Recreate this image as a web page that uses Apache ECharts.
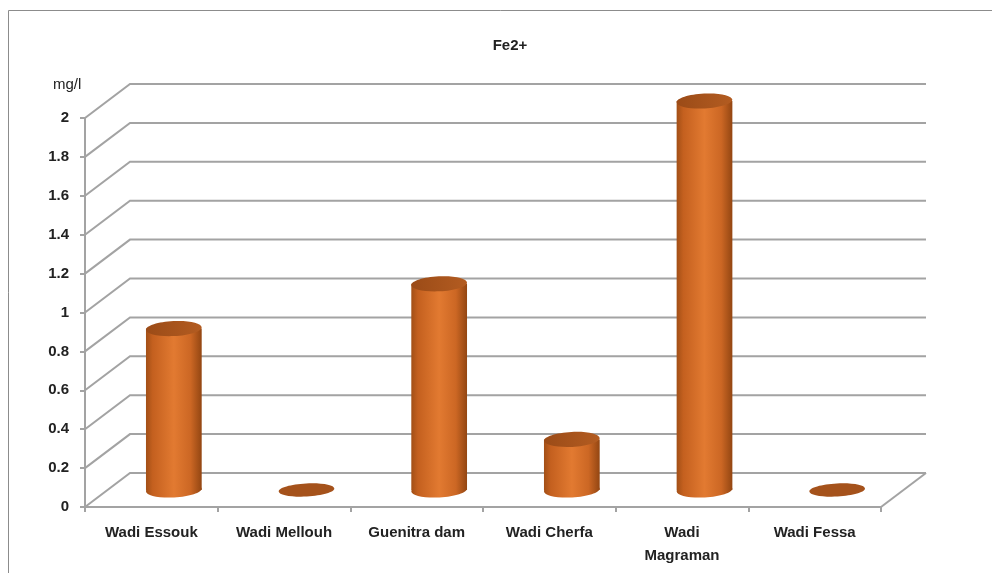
<!DOCTYPE html>
<html>
<head>
<meta charset="utf-8">
<script src="https://cdn.jsdelivr.net/npm/echarts@6/dist/echarts.min.js"></script>
<style>
  html, body { margin: 0; padding: 0; background: #ffffff; }
  #chart { width: 992px; height: 573px; }
</style>
</head>
<body>
<div id="chart"></div>
<script>
// Fe2+ concentration per sampling site (mg/l)
const categories = ['Wadi Essouk', 'Wadi Mellouh', 'Guenitra dam', 'Wadi Cherfa', 'Wadi\nMagraman', 'Wadi Fessa'];
const fe2Values = [0.83, 0, 1.06, 0.26, 2.0, 0];
const yTickValues = [0, 0.2, 0.4, 0.6, 0.8, 1, 1.2, 1.4, 1.6, 1.8, 2];
const yUnit = 'mg/l';
const chartTitle = 'Fe2+';

// pseudo-3D depth of the plot box, in pixels
const DEPTH_DX = 45;
const DEPTH_DY = 34;
const WALL_COLOR = '#a3a3a3';
const LABEL_FONT = '"Liberation Sans", Arial, sans-serif';

const chart = echarts.init(document.getElementById('chart'));

// back wall gridlines + floor outline
function renderWall(params, api) {
  const cs = params.coordSys;
  const v = api.value(1);
  const y = api.coord([0, v])[1];
  const x0 = cs.x, x1 = cs.x + cs.width;
  const children = [{
    type: 'polyline',
    shape: { points: [[x0, y], [x0 + DEPTH_DX, y - DEPTH_DY], [x1 + DEPTH_DX, y - DEPTH_DY]] },
    style: { stroke: WALL_COLOR, lineWidth: 2, fill: null }
  }];
  if (v === 0) {
    children.push({
      type: 'line',
      shape: { x1: x1, y1: y, x2: x1 + DEPTH_DX, y2: y - DEPTH_DY },
      style: { stroke: WALL_COLOR, lineWidth: 2 }
    });
  }
  return { type: 'group', children: children };
}

const bodyGradient = new echarts.graphic.LinearGradient(0, 0, 1, 0, [
  { offset: 0, color: '#a24f16' },
  { offset: 0.12, color: '#c4601f' },
  { offset: 0.5, color: '#e27a31' },
  { offset: 0.8, color: '#cc6724' },
  { offset: 1, color: '#934612' }
]);
const capGradient = new echarts.graphic.LinearGradient(0, 0, 1, 0, [
  { offset: 0, color: '#9b4b17' },
  { offset: 1, color: '#b35c21' }
]);

function renderCylinder(params, api) {
  const idx = api.value(0);
  const v = api.value(1);
  const top = api.coord([idx, v]);
  const base = api.coord([idx, 0]);
  const cx = top[0] + DEPTH_DX / 2;
  const yt = top[1] - DEPTH_DY / 2;
  const yb = base[1] - DEPTH_DY / 2;
  const w = api.size([1, 0])[0] * 0.42;
  const rx = w / 2, ry = 7.5;
  const tilt = 0.05;
  if (v === 0) {
    return {
      type: 'ellipse', x: cx, y: yb, rotation: tilt,
      shape: { cx: 0, cy: 0, rx: rx, ry: 6.5 },
      style: { fill: '#a5521b' }
    };
  }
  return {
    type: 'group',
    children: [
      { type: 'ellipse', x: cx, y: yb, rotation: tilt,
        shape: { cx: 0, cy: 0, rx: rx, ry: ry }, style: { fill: bodyGradient } },
      { type: 'rect', shape: { x: cx - rx, y: yt, width: w, height: yb - yt },
        style: { fill: bodyGradient } },
      { type: 'ellipse', x: cx, y: yt, rotation: tilt,
        shape: { cx: 0, cy: 0, rx: rx, ry: ry }, style: { fill: capGradient } }
    ]
  };
}

chart.setOption({
  animation: false,
  backgroundColor: '#ffffff',
  title: {
    text: chartTitle,
    left: 505, top: 33, textAlign: 'center',
    textStyle: { fontFamily: LABEL_FONT, fontSize: 15, fontWeight: 'bold', color: '#222' }
  },
  graphic: [
    { type: 'rect', shape: { x: 8.5, y: 10.5, width: 1000, height: 600 },
      style: { fill: null, stroke: '#8c8c8c', lineWidth: 1 }, silent: true, z: -10 },
    { type: 'text', left: 53, top: 77,
      style: { text: yUnit, fontFamily: LABEL_FONT, fontSize: 15, fill: '#222' } }
  ],
  grid: { left: 85, top: 118, width: 796, height: 389, containLabel: false },
  xAxis: {
    type: 'category',
    data: categories,
    boundaryGap: true,
    axisLine: { show: true, lineStyle: { color: WALL_COLOR, width: 2 } },
    axisTick: { show: true, length: 5, lineStyle: { color: WALL_COLOR, width: 2 } },
    axisLabel: {
      margin: 14, interval: 0,
      fontFamily: LABEL_FONT, fontSize: 15, fontWeight: 'bold', color: '#222', lineHeight: 23
    },
    splitLine: { show: false }
  },
  yAxis: {
    type: 'value',
    min: yTickValues[0],
    max: yTickValues[yTickValues.length - 1],
    interval: 0.2,
    axisLine: { show: true, lineStyle: { color: WALL_COLOR, width: 2 } },
    axisTick: { show: true, length: 5, lineStyle: { color: WALL_COLOR, width: 2 } },
    axisLabel: {
      margin: 16,
      fontFamily: LABEL_FONT, fontSize: 15, fontWeight: 'bold', color: '#222',
      formatter: function (v) { return String(Math.round(v * 10) / 10); }
    },
    splitLine: { show: false }
  },
  series: [
    {
      type: 'custom',
      renderItem: renderWall,
      encode: { x: 0, y: 1 },
      data: yTickValues.map(function (v) { return [0, v]; }),
      z: 1, silent: true
    },
    {
      type: 'custom',
      renderItem: renderCylinder,
      encode: { x: 0, y: 1 },
      data: fe2Values.map(function (v, i) { return [i, v]; }),
      z: 2
    }
  ]
});
</script>
</body>
</html>
